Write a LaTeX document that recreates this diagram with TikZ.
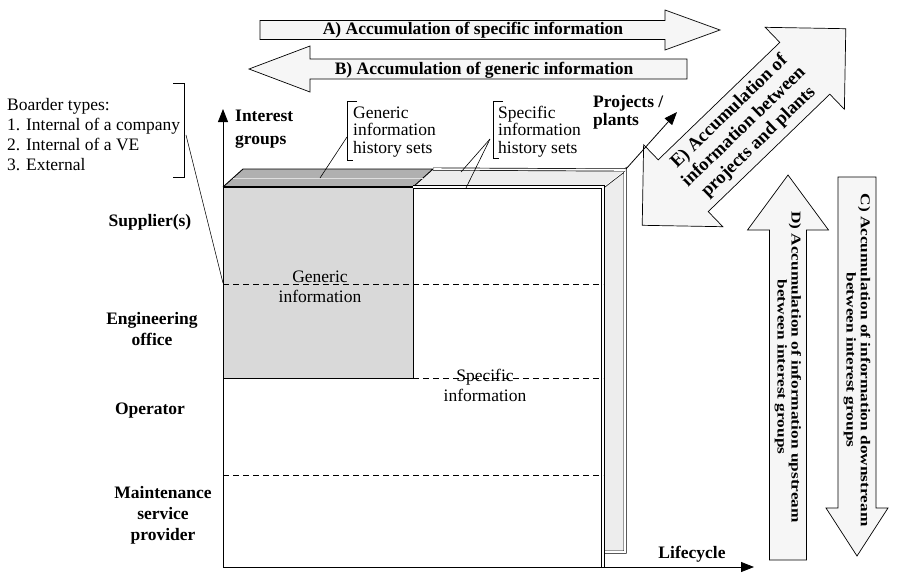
\documentclass[tikz,border=0pt]{standalone}
\usepackage{fontspec}
\setmainfont{Liberation Serif}
\usetikzlibrary{arrows.meta}

\tikzset{
  bl/.style={font=\fontsize{17.5}{21}\selectfont\bfseries, inner sep=0pt, align=center},
  rg/.style={font=\fontsize{17.5}{17.5}\selectfont, inner sep=0pt, align=left},
  vt/.style={font=\fontsize{13.5}{14}\selectfont\bfseries, inner sep=0pt, align=center},
  barrow/.style={draw, line width=0.7pt, fill=gray!7},
  axis/.style={line width=0.8pt, -{Triangle[length=13pt,width=10pt]}},
  lead/.style={line width=0.6pt},
  band/.style={line width=0.8pt, dash pattern=on 6pt off 4pt},
}

\begin{document}
\begin{tikzpicture}[x=1pt,y=-1pt]
\useasboundingbox (0,0) rectangle (899,574);

% ---- block arrows A and B ----
\begin{scope}[shift={(490,30)}]
  \draw[barrow] (-230,-9.5) -- (175,-9.5) -- (175,-20) -- (230,0) -- (175,20) -- (175,9.5) -- (-230,9.5) -- cycle;
\end{scope}
\begin{scope}[shift={(468,69)}, rotate=180]
  \draw[barrow] (-219,-10) -- (158,-10) -- (158,-23) -- (219,0) -- (158,23) -- (158,10) -- (-219,10) -- cycle;
\end{scope}
\node[bl] (tA) at (473,30) {A) Accumulation of specific information};
\node[bl] (tB) at (484,70) {B) Accumulation of generic information};

% ---- double arrow E between projects and plants ----
\begin{scope}[shift={(744,127)}, rotate=44]
  \draw[barrow] (-141.5,0) -- (-84.5,-57) -- (-84.5,-36) -- (84.5,-36) -- (84.5,-57) -- (141.5,0)
    -- (84.5,57) -- (84.5,36) -- (-84.5,36) -- (-84.5,57) -- cycle;
\end{scope}
\node[bl, rotate=44, font=\fontsize{18.5}{21}\selectfont\bfseries] (tE) at (744,127) {E) Accumulation of\\information between\\projects and plants};

% ---- vertical arrows C (down) and D (up) ----
\begin{scope}[shift={(857,366.5)}, rotate=-90]
  \draw[barrow] (-189.5,-19) -- (141.5,-19) -- (141.5,-31) -- (189.5,0) -- (141.5,31) -- (141.5,19) -- (-189.5,19) -- cycle;
\end{scope}
\begin{scope}[shift={(788,367.5)}, rotate=90]
  \draw[barrow] (-192.5,-18.5) -- (137.5,-18.5) -- (137.5,-40.5) -- (192.5,0) -- (137.5,40.5) -- (137.5,18.5) -- (-192.5,18.5) -- cycle;
\end{scope}
\node[vt, rotate=-90, xscale=1.28] (tC) at (857,360) {C) Accumulation of information downstream\\between interest groups};
\node[vt, rotate=-90, xscale=1.28] (tD) at (788,367) {D) Accumulation of information upstream\\between interest groups};

% ---- stacked history sheets behind the front face ----
\fill[gray!14] (603,187) -- (625,170) -- (625,552) -- (603,552) -- cycle;
\draw[line width=0.7pt, double, double distance=1.6pt] (603,187) -- (625,170) -- (625,552) -- (603,552);
\fill[gray!14] (413,187) -- (433,169) -- (625,170) -- (603,187) -- cycle;
\draw[line width=0.7pt, double, double distance=1.6pt] (433,169) -- (625,170);
\fill[gray!62] (223,187) -- (243,169) -- (433,169) -- (413,187) -- cycle;
\draw[line width=0.9pt] (223,187) -- (243,169) -- (433,169) -- (413,187);
\draw[gray!25, line width=1pt] (233,178) -- (423,178);

% ---- front face ----
\fill[white] (223,187) rectangle (603,567);
\fill[gray!30] (223,187) rectangle (413,378);
\draw[line width=0.8pt] (413,187) -- (413,378) -- (223,378);
\draw[line width=0.8pt, double, double distance=1.6pt] (413,187) -- (603,187) -- (603,567);
\draw[line width=1.2pt] (223,187) -- (413,187);
\draw[band] (223,284) -- (603,284);
\draw[band] (413,378) -- (603,378);
\draw[band] (223,475) -- (603,475);

\node[rg, align=center, font=\fontsize{17.5}{20}\selectfont] (gi) at (320,287) {Generic\\information};
\node[rg, align=center, font=\fontsize{17.5}{20}\selectfont] (si) at (485,385) {Specific\\information};

% ---- axes ----
\coordinate (o) at (223,567);
\coordinate (yend) at (223,109);
\coordinate (xend) at (754,567);
\coordinate (pstart) at (626,169);
\coordinate (pend) at (677,112);
\draw[axis] (o) -- (yend);
\draw[axis] (o) -- (xend);
\draw[axis] (pstart) -- (pend);

% multi-line nodes are placed by the baseline of their last line
\node[bl, anchor=base west, align=left, font=\fontsize{17.5}{23}\selectfont\bfseries] (ig) at (235,144) {Interest\\groups};
\node[bl, anchor=base west, align=left, font=\fontsize{17.5}{18}\selectfont\bfseries] (pp) at (593,125) {Projects /\\plants};
\node[bl] (lc) at (692,554) {Lifecycle};

% ---- interest group labels ----
\node[bl] (sup) at (150,222) {Supplier(s)};
\node[bl] (eng) at (152,329) {Engineering\\office};
\node[bl] (op) at (150,411) {Operator};
\node[bl] (mnt) at (163,515) {Maintenance\\service\\provider};

% ---- border types note ----
\node[rg, anchor=base west, font=\fontsize{17.5}{20}\selectfont] (bt) at (7,170) {Boarder types:\\1. Internal of a company\\2. Internal of a VE\\3. External};
\draw[lead] (173,83) -- (184,83) -- (184,177) -- (173,177);
\coordinate (btl) at (186,135);
\coordinate (btr) at (223,283);
\draw[lead] (btl) -- (btr);

% ---- history set notes ----
\node[rg, anchor=base west] (gh) at (353,153) {Generic\\information\\history sets};
\draw[lead] (357,101) -- (347,101) -- (347,160) -- (353,160);
\coordinate (ghl) at (347,137);
\coordinate (ghe) at (320,178);
\draw[lead] (ghl) -- (ghe);

\node[rg, anchor=base west] (sh) at (498,153) {Specific\\information\\history sets};
\draw[lead] (503,101) -- (493,101) -- (493,158) -- (499,158);
\coordinate (shl) at (490,139);
\coordinate (she1) at (461,172);
\coordinate (she2) at (466,188);
\draw[lead] (shl) -- (she1);
\draw[lead] (shl) -- (she2);
\end{tikzpicture}
\end{document}
